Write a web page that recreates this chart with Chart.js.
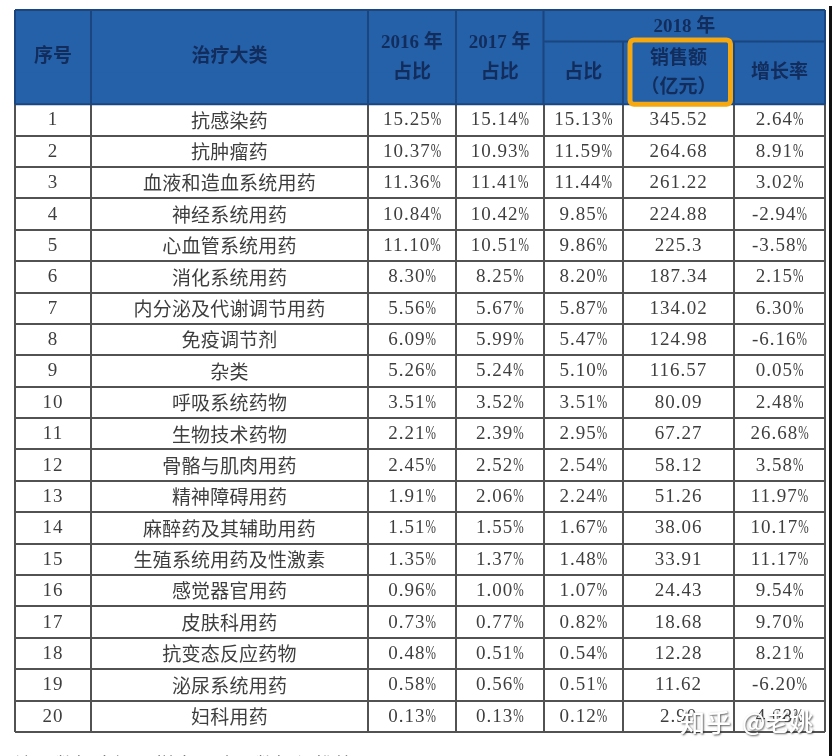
<!DOCTYPE html>
<html lang="zh">
<head>
<meta charset="utf-8">
<title>治疗大类销售额</title>
<script src="https://cdn.jsdelivr.net/npm/chart.js@4/dist/chart.umd.min.js"></script>
<style>
    html, body { margin: 0; padding: 0; background: #fff; overflow: hidden; }
    #wrap { position: relative; width: 832px; height: 756px; }
    #myCanvas { display: block; filter: blur(0.7px); }
    #edge { position: absolute; left: 829px; top: 6px; width: 3px; bottom: 0; background: #111; }
</style>
</head>
<body>
<div id="wrap">
    <canvas id="myCanvas" width="832" height="756"></canvas>
    <div id="edge"></div>
</div>
<script>
const rowNumbers = ['1','2','3','4','5','6','7','8','9','10','11','12','13','14','15','16','17','18','19','20']
const categories = ['抗感染药','抗肿瘤药','血液和造血系统用药','神经系统用药','心血管系统用药','消化系统用药','内分泌及代谢调节用药','免疫调节剂','杂类','呼吸系统药物','生物技术药物','骨骼与肌肉用药','精神障碍用药','麻醉药及其辅助用药','生殖系统用药及性激素','感觉器官用药','皮肤科用药','抗变态反应药物','泌尿系统用药','妇科用药']
const share2016 = ['15.25%','10.37%','11.36%','10.84%','11.10%','8.30%','5.56%','6.09%','5.26%','3.51%','2.21%','2.45%','1.91%','1.51%','1.35%','0.96%','0.73%','0.48%','0.58%','0.13%']
const share2017 = ['15.14%','10.93%','11.41%','10.42%','10.51%','8.25%','5.67%','5.99%','5.24%','3.52%','2.39%','2.52%','2.06%','1.55%','1.37%','1.00%','0.77%','0.51%','0.56%','0.13%']
const share2018 = ['15.13%','11.59%','11.44%','9.85%','9.86%','8.20%','5.87%','5.47%','5.10%','3.51%','2.95%','2.54%','2.24%','1.67%','1.48%','1.07%','0.82%','0.54%','0.51%','0.12%']
const sales2018 = ['345.52','264.68','261.22','224.88','225.3','187.34','134.02','124.98','116.57','80.09','67.27','58.12','51.26','38.06','33.91','24.43','18.68','12.28','11.62','2.90']
const growth2018 = ['2.64%','8.91%','3.02%','-2.94%','-3.58%','2.15%','6.30%','-6.16%','0.05%','2.48%','26.68%','3.58%','11.97%','10.17%','11.17%','9.54%','9.70%','8.21%','-6.20%','4.68%']
const columns = [rowNumbers, categories, share2016, share2017, share2018, sales2018, growth2018]

// table column boundaries on the x scale
const columnEdges = [0, 76, 353, 441, 528.5, 608, 719, 810]
const yearLabels = ['2016 年', '2017 年', '2018 年']
const headerLabels = ['序号', '治疗大类', '占比', '销售额', '（亿元）', '增长率']
const footnote = '注：数据来源于样本医院，数据经推算，下同。'
const watermark = ['知乎', '@老姚']

const HEADER_ROWS = 3
const rowLabels = ['表头', '表头', '表头'].concat(rowNumbers)
const LINE = '#525252'
const HEADER_BLUE = '#2561a9'
const HEADER_LINE = '#1b457f'
const HEADER_TEXT = '#122c5c'
const CELL_TEXT = '#3e3e3e'
const GOLD = '#f5a80f'
const BODY_FONT = '19px "Liberation Serif"'
const CJK_FONT = '19px "Noto Sans CJK SC"'
const HEAD_FONT = 'bold 19px "Liberation Serif", "Noto Sans CJK SC"'
const PERCENT_SQUEEZE = 0.66

function text(ctx, str, x, y, font, color, spacing) {
    ctx.font = font
    ctx.fillStyle = color
    ctx.letterSpacing = spacing || '0px'
    ctx.fillText(str, x, y)
    ctx.letterSpacing = '0px'
}

// digits are wide and the percent sign narrow in the original table
function numberText(ctx, str, x, y) {
    const isPercent = str.endsWith('%')
    const digits = isPercent ? str.slice(0, -1) : str
    ctx.font = BODY_FONT
    const w2 = isPercent ? ctx.measureText('%').width * PERCENT_SQUEEZE : 0
    ctx.letterSpacing = '1px'
    const w1 = ctx.measureText(digits).width
    ctx.letterSpacing = '0px'
    const left = x - (w1 + w2) / 2
    const align = ctx.textAlign
    ctx.textAlign = 'left'
    text(ctx, digits, left, y, BODY_FONT, CELL_TEXT, '1px')
    if (isPercent) {
        ctx.save()
        ctx.translate(left + w1, y)
        ctx.scale(PERCENT_SQUEEZE, 1)
        text(ctx, '%', 0, 0, BODY_FONT, CELL_TEXT)
        ctx.restore()
    }
    ctx.textAlign = align
}

const tablePlugin = {
    id: 'tablePlugin',
    afterDatasetsDraw(chart) {
        const ctx = chart.ctx
        const xs = chart.scales.x
        const ys = chart.scales.y
        const edge = i => xs.getPixelForValue(columnEdges[i])
        const mid = i => (edge(i) + edge(i + 1)) / 2
        // y positions use the row index; half steps fall on the row lines
        const rowY = r => ys.getPixelForValue(r)

        ctx.save()

        // header lines
        ctx.strokeStyle = HEADER_LINE
        ctx.lineWidth = 2
        ctx.beginPath()
        ctx.moveTo(edge(0), rowY(-0.5)); ctx.lineTo(edge(7), rowY(-0.5))
        ctx.moveTo(edge(4), rowY(0.5)); ctx.lineTo(edge(7), rowY(0.5))
        ;[0, 1, 2, 3, 4, 7].forEach(i => { ctx.moveTo(edge(i), rowY(-0.5)); ctx.lineTo(edge(i), rowY(2.5)) })
        ;[5, 6].forEach(i => { ctx.moveTo(edge(i), rowY(0.5)); ctx.lineTo(edge(i), rowY(2.5)) })
        ctx.moveTo(edge(0), rowY(2.5)); ctx.lineTo(edge(7), rowY(2.5))
        ctx.stroke()

        ctx.textAlign = 'center'
        ctx.textBaseline = 'middle'

        // header text
        text(ctx, headerLabels[0], mid(0), rowY(1), HEAD_FONT, HEADER_TEXT)
        text(ctx, headerLabels[1], mid(1), rowY(1), HEAD_FONT, HEADER_TEXT)
        text(ctx, yearLabels[0], mid(2), rowY(0.55), HEAD_FONT, HEADER_TEXT)
        text(ctx, headerLabels[2], mid(2), rowY(1.5), HEAD_FONT, HEADER_TEXT)
        text(ctx, yearLabels[1], mid(3), rowY(0.55), HEAD_FONT, HEADER_TEXT)
        text(ctx, headerLabels[2], mid(3), rowY(1.5), HEAD_FONT, HEADER_TEXT)
        text(ctx, yearLabels[2], (edge(4) + edge(7)) / 2, rowY(0.05), HEAD_FONT, HEADER_TEXT)
        text(ctx, headerLabels[2], mid(4), rowY(1.5), HEAD_FONT, HEADER_TEXT)
        text(ctx, headerLabels[3], mid(5), rowY(1.05), HEAD_FONT, HEADER_TEXT)
        text(ctx, headerLabels[4], mid(5), rowY(1.98), HEAD_FONT, HEADER_TEXT)
        text(ctx, headerLabels[5], mid(6), rowY(1.5), HEAD_FONT, HEADER_TEXT)

        // gold box around the sales header
        ctx.strokeStyle = GOLD
        ctx.lineWidth = 5
        ctx.beginPath()
        ctx.roundRect(edge(5) + 7, rowY(0.5) - 1.5, edge(6) - edge(5) - 10.5, rowY(2.5) - rowY(0.5) + 1.5, 4)
        ctx.stroke()

        // table body
        columns.forEach((col, c) => {
            col.forEach((val, r) => {
                const y = rowY(r + HEADER_ROWS) + 0.5
                if (c === 1) text(ctx, val, mid(c), y, CJK_FONT, CELL_TEXT, '0.2px')
                else numberText(ctx, val, mid(c), y)
            })
        })

        // footnote is cut by the bottom of the picture
        ctx.textAlign = 'left'
        text(ctx, footnote, edge(0), ys.bottom + 33, CJK_FONT, '#555', '1px')

        // watermark
        ctx.shadowColor = 'rgba(40,40,40,0.75)'
        ctx.shadowBlur = 2
        ctx.shadowOffsetX = 1
        ctx.shadowOffsetY = 1
        text(ctx, watermark[0], edge(5) + 57, rowY(22) + 6, '500 25px "Noto Sans CJK SC"', '#fff', '1px')
        text(ctx, watermark[1], edge(6) + 8, rowY(22) + 6, '500 24px "Noto Sans CJK SC"', '#fff')

        ctx.restore()
    }
}

new Chart(document.getElementById('myCanvas').getContext('2d'), {
    type: 'bar',
    data: {
        labels: rowLabels,
        datasets: [{
            label: '表头',
            data: rowLabels.map((l, i) => i < HEADER_ROWS ? [columnEdges[0], columnEdges[7]] : null),
            backgroundColor: HEADER_BLUE,
            borderWidth: 0,
            categoryPercentage: 1,
            barPercentage: 1.02
        }]
    },
    options: {
        indexAxis: 'y',
        responsive: false,
        animation: false,
        devicePixelRatio: 1,
        layout: { padding: { left: 15, right: 7, top: 10, bottom: 24 } },
        plugins: { legend: { display: false }, tooltip: { enabled: false } },
        scales: {
            x: {
                type: 'linear',
                min: columnEdges[0],
                max: columnEdges[7],
                afterBuildTicks: scale => { scale.ticks = columnEdges.map(v => ({ value: v })) },
                ticks: { display: false },
                border: { display: false },
                grid: { color: LINE, lineWidth: 2, drawTicks: false }
            },
            y: {
                type: 'category',
                ticks: { display: false },
                border: { display: false },
                grid: { color: LINE, lineWidth: 2, drawTicks: false, offset: true }
            }
        }
    },
    plugins: [tablePlugin]
})
</script>
</body>
</html>
